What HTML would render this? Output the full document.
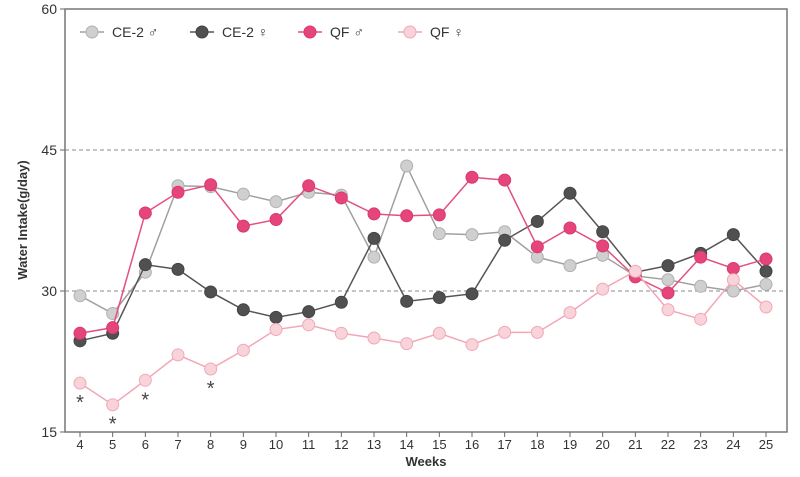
<!DOCTYPE html>
<html><head><meta charset="utf-8"><style>
body{margin:0;background:#fff;font-family:"Liberation Sans",sans-serif;}
</style></head><body>
<svg id="chart" width="800" height="472" xmlns="http://www.w3.org/2000/svg" font-family="Liberation Sans, sans-serif"></svg>
<script>
const weeks=[4,5,6,7,8,9,10,11,12,13,14,15,16,17,18,19,20,21,22,23,24,25];
const ce2Male=[29.5,27.6,32.0,41.2,41.1,40.3,39.5,40.5,40.2,33.6,43.3,36.1,36.0,36.3,33.6,32.7,33.8,31.6,31.2,30.5,30.0,30.7];
const ce2Female=[24.7,25.5,32.8,32.3,29.9,28.0,27.2,27.8,28.8,35.6,28.9,29.3,29.7,35.4,37.4,40.4,36.3,32.0,32.7,34.0,36.0,32.1];
const qfMale=[25.5,26.1,38.3,40.5,41.3,36.9,37.6,41.2,39.9,38.2,38.0,38.1,42.1,41.8,34.7,36.7,34.8,31.5,29.8,33.6,32.4,33.4];
const qfFemale=[20.2,17.9,20.5,23.2,21.7,23.7,25.9,26.4,25.5,25.0,24.4,25.5,24.3,25.6,25.6,27.7,30.2,32.1,28.0,27.0,31.2,28.3];
const yTicks=[15,30,45,60];
const sigWeeks=[4,5,6,8];
const series=[
 {name:'CE-2 ♂',vals:ce2Male,line:'#a0a0a0',fill:'#cfcfcf',stroke:'#b0b0b0',key:'ce2-male'},
 {name:'CE-2 ♀',vals:ce2Female,line:'#555',fill:'#505050',stroke:'#444',key:'ce2-female'},
 {name:'QF ♂',vals:qfMale,line:'#e4507e',fill:'#e5457a',stroke:'#d83a6e',key:'qf-male'},
 {name:'QF ♀',vals:qfFemale,line:'#f2a6b6',fill:'#f9d3da',stroke:'#f0a9b7',key:'qf-female'}
];
const L=65,R=787,T=9,B=432;
const x=w=>80+(w-4)*(766-80)/21;
const y=v=>B-(v-15)*(B-T)/45;
const svg=document.getElementById('chart');const NS='http://www.w3.org/2000/svg';
function mk(t,a,p){const e=document.createElementNS(NS,t);for(const k in a)e.setAttribute(k,a[k]);(p||svg).appendChild(e);return e;}
yTicks.forEach(v=>{
 if(v===45||v===30){const g=mk('line',{x1:L,x2:R,y1:y(v),y2:y(v),stroke:'#888','stroke-dasharray':'4,3','stroke-width':1});
 
 }
 mk('line',{x1:L-5,x2:L,y1:y(v),y2:y(v),stroke:'#666'});
 const t=mk('text',{x:L-8,y:y(v)+5,'text-anchor':'end','font-size':14,fill:'#333'});t.textContent=v;
 
 
});
const fr=mk('rect',{x:L,y:T,width:R-L,height:B-T,fill:'none',stroke:'#777','stroke-width':1.5});


weeks.forEach(w=>{
 mk('line',{x1:x(w),x2:x(w),y1:B,y2:B+5,stroke:'#666'});
 const t=mk('text',{x:x(w),y:B+17,'text-anchor':'middle','font-size':13,fill:'#333'});t.textContent=w;
 
 
});
let xt=mk('text',{x:426,y:466,'text-anchor':'middle','font-size':13,'font-weight':'bold',fill:'#333'});xt.textContent='Weeks';


let yt=mk('text',{x:0,y:0,transform:'translate(27,220) rotate(-90)','text-anchor':'middle','font-size':13,'font-weight':'bold',fill:'#333'});yt.textContent='Water Intake(g/day)';


series.forEach(s=>{
 const g=mk('g',{});
 
 
 mk('polyline',{points:s.vals.map((v,i)=>x(weeks[i])+','+y(v)).join(' '),fill:'none',stroke:s.line,'stroke-width':1.5},g);
 s.vals.forEach((v,i)=>{const c=mk('circle',{cx:x(weeks[i]),cy:y(v),r:6,fill:s.fill,stroke:s.stroke,'stroke-width':1},g);
 
 });
});
sigWeeks.forEach(w=>{const i=weeks.indexOf(w);
 const t=mk('text',{x:x(w),y:y(qfFemale[i])+26,'text-anchor':'middle','font-size':20,fill:'#444'});t.textContent='*';
 
 });
const lx=[80,190,298,398];
series.forEach((s,i)=>{const g=mk('g',{});
 
 
 mk('line',{x1:lx[i],x2:lx[i]+24,y1:32,y2:32,stroke:s.line,'stroke-width':1.5},g);
 mk('circle',{cx:lx[i]+12,cy:32,r:6,fill:s.fill,stroke:s.stroke},g);
 const t=mk('text',{x:lx[i]+32,y:37,'font-size':14,fill:'#333'},g);t.textContent=s.name;});
</script>
</body></html>
